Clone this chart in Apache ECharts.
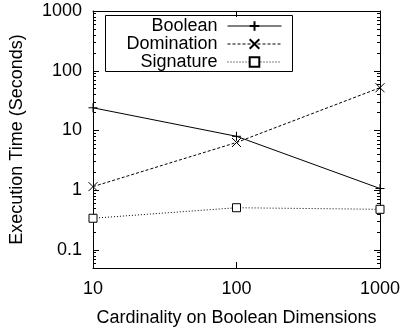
<!DOCTYPE html>
<html>
<head>
<meta charset="utf-8">
<script src="https://cdn.jsdelivr.net/npm/echarts@6/dist/echarts.min.js"></script>
<style>
  html, body { margin: 0; padding: 0; background: #fff; }
  #chart { width: 401px; height: 331px; }
</style>
</head>
<body>
<div id="chart"></div>
<script>
// Cardinality values (x) and execution times in seconds (y, log scale)
const cardinality = [10, 100, 1000];
const booleanTimes = [24, 8.0, 1.07];
const dominationTimes = [1.15, 6.3, 52];
const signatureTimes = [0.34, 0.51, 0.48];
const seriesNames = ['Boolean', 'Domination', 'Signature'];
const yTickLabels = ['0.1', '1', '10', '100', '1000'];
const xTickLabels = ['10', '100', '1000'];

const FONT = 'Liberation Sans, Arial, Helvetica, sans-serif';
const FS = 18;
const INK = '#000';

const pairs = (ys) => cardinality.map((x, i) => [x, ys[i]]);
const fmt = (v) => String(Number(Number(v).toPrecision(6)));

const plusPath = 'path://M0,5L10,5M5,0L5,10';
const crossPath = 'path://M0,0L10,10M10,0L0,10';

const baseAxisLine = { show: true, lineStyle: { color: INK, width: 1 } };

function yAxis(pos, labels) {
  return {
    type: 'log', logBase: 10, position: pos,
    min: 0.05, max: 1000,
    name: pos === 'left' ? 'Execution Time (Seconds)' : '',
    nameLocation: 'middle', nameGap: 67,
    nameTextStyle: { fontFamily: FONT, fontSize: FS, color: INK },
    axisLine: baseAxisLine,
    axisTick: { show: true, inside: true, length: 6, lineStyle: { color: INK } },
    minorTick: { show: true, splitNumber: 9, length: 3, lineStyle: { color: INK } },
    splitLine: { show: false },
    axisLabel: {
      show: labels, fontFamily: FONT, fontSize: FS, color: INK, margin: 11,
      formatter: (v) => { const s = fmt(v); return yTickLabels.includes(s) ? s : ''; }
    }
  };
}

function xAxis(pos, labels) {
  return {
    type: 'log', logBase: 10, position: pos,
    min: 10, max: 1000,
    name: pos === 'bottom' ? 'Cardinality on Boolean Dimensions' : '',
    nameLocation: 'middle', nameGap: 41,
    nameTextStyle: { fontFamily: FONT, fontSize: FS, color: INK },
    axisLine: baseAxisLine,
    axisTick: { show: true, inside: true, length: 6, lineStyle: { color: INK } },
    splitLine: { show: false },
    axisLabel: {
      show: labels, fontFamily: FONT, fontSize: FS, color: INK, margin: 12,
      formatter: (v) => { const s = fmt(v); return xTickLabels.includes(s) ? s : ''; }
    }
  };
}

function legendRow(name, top) {
  return {
    data: [name], orient: 'vertical', align: 'right',
    right: 119, top: top,
    itemWidth: 54, itemHeight: 12, itemGap: 0, padding: 0,
    selectedMode: false,
    lineStyle: { width: 1 },
    textStyle: { fontFamily: FONT, fontSize: FS, lineHeight: 18, color: INK, padding: [0, 5, 0, 0] }
  };
}

const chart = echarts.init(document.getElementById('chart'), null, { renderer: 'canvas' });
chart.setOption({
  animation: false,
  backgroundColor: '#fff',
  grid: { left: 93, right: 21, top: 11, bottom: 63, containLabel: false, outerBoundsMode: 'none' },
  xAxis: [xAxis('bottom', true), xAxis('top', false)],
  yAxis: [yAxis('left', true), yAxis('right', false)],
  legend: [legendRow(seriesNames[0], 17), legendRow(seriesNames[1], 35), legendRow(seriesNames[2], 53)],
  graphic: [{
    type: 'rect', shape: { x: 105.5, y: 15.5, width: 187, height: 56 },
    style: { fill: null, stroke: INK, lineWidth: 1 }, z: 10
  }],
  series: [
    {
      name: seriesNames[0], type: 'line', data: pairs(booleanTimes),
      symbol: plusPath, symbolSize: 9,
      lineStyle: { color: INK, width: 1, type: 'solid' },
      itemStyle: { color: 'rgba(0,0,0,0)', borderColor: INK, borderWidth: 1 }
    },
    {
      name: seriesNames[1], type: 'line', data: pairs(dominationTimes),
      symbol: crossPath, symbolSize: 9,
      lineStyle: { color: INK, width: 1, type: [3, 2] },
      itemStyle: { color: 'rgba(0,0,0,0)', borderColor: INK, borderWidth: 1 }
    },
    {
      name: seriesNames[2], type: 'line', data: pairs(signatureTimes),
      symbol: 'rect', symbolSize: 8,
      lineStyle: { color: INK, width: 1, type: [1, 2] },
      itemStyle: { color: '#fff', borderColor: INK, borderWidth: 1 }
    }
  ]
});
</script>
</body>
</html>
